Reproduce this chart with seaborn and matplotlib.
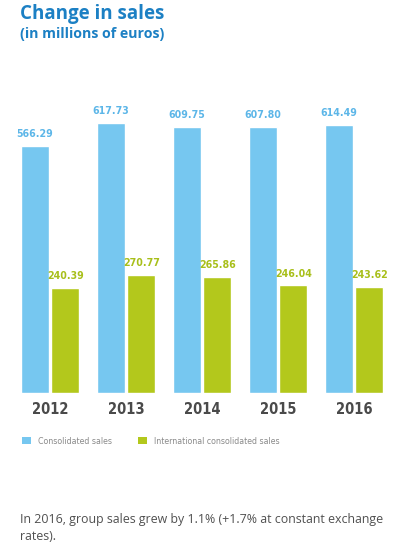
import matplotlib
matplotlib.use("Agg")
import matplotlib.pyplot as plt
import seaborn as sns
import pandas as pd
from matplotlib.patches import Patch

years = ["2012", "2013", "2014", "2015", "2016"]
consolidated = [566.29, 617.73, 609.75, 607.80, 614.49]
international = [240.39, 270.77, 265.86, 246.04, 243.62]
series_names = ["Consolidated sales", "International consolidated sales"]

df = pd.DataFrame({
    "year": years * 2,
    "value": consolidated + international,
    "series": [series_names[0]] * len(years) + [series_names[1]] * len(years),
})

sns.set_style("white")
plt.rcParams['font.family'] = ['DejaVu Sans']

blue = "#76c7f0"
green = "#b3c81c"
colors = [blue, green]

fig = plt.figure(figsize=(3.93, 5.55), dpi=100)
ax = fig.add_axes([12/393, 162/555, 380/393, 284/555])

sns.barplot(data=df, x="year", y="value", hue="series", palette=colors,
            width=0.8, gap=0.08, ax=ax, legend=False, saturation=1)

ax.set_xlim(-0.5, 4.5)
ax.set_ylim(0, 650)
label_cols = ["#5cb6e8", "#a8bf1a"]
for cont, lc in zip(ax.containers, label_cols):
    ax.bar_label(cont, labels=[f"{v:.2f}" for v in cont.datavalues],
                 padding=5, color=lc, fontsize=7.6, fontweight="bold",
                 fontstretch="condensed")

ax.set_xlabel("")
ax.set_ylabel("")
ax.set_yticks([])
ax.tick_params(axis="x", length=0, pad=6.5, labelsize=10.5, labelcolor="#4a4a4a")
for t in ax.get_xticklabels():
    t.set_fontweight("bold")
    t.set_fontstretch("condensed")
for s in ax.spines.values():
    s.set_visible(False)

fig.text(20/393, 1 - 14/555, "Change in sales", fontsize=13.5, fontweight="bold",
         color="#1c80c4", family=["Open Sans", "DejaVu Sans"], va="center", ha="left")
fig.text(20/393, 1 - 34/555, "(in millions of euros)", fontsize=10.2, fontweight="bold",
         color="#1c80c4", family=["Open Sans", "DejaVu Sans"], va="center", ha="left")

handles = [Patch(facecolor=blue, edgecolor="none"), Patch(facecolor=green, edgecolor="none")]
fig.legend(handles, series_names, loc="center left", bbox_to_anchor=(14/393, 1 - 441/555),
           ncol=2, frameon=False, labelcolor="#8a8a8a",
           prop={"size": 6.3, "stretch": "condensed"},
           handlelength=1.0, handleheight=1.0, handletextpad=0.8, columnspacing=3.0)

fig.text(20/393, 1 - 520/555, "In 2016, group sales grew by 1.1% (+1.7% at constant exchange",
         fontsize=8.9, color="#505050", family=["Open Sans", "DejaVu Sans"], va="center")
fig.text(20/393, 1 - 537/555, "rates).",
         fontsize=8.9, color="#505050", family=["Open Sans", "DejaVu Sans"], va="center")

fig.savefig("out.png", dpi=100)
